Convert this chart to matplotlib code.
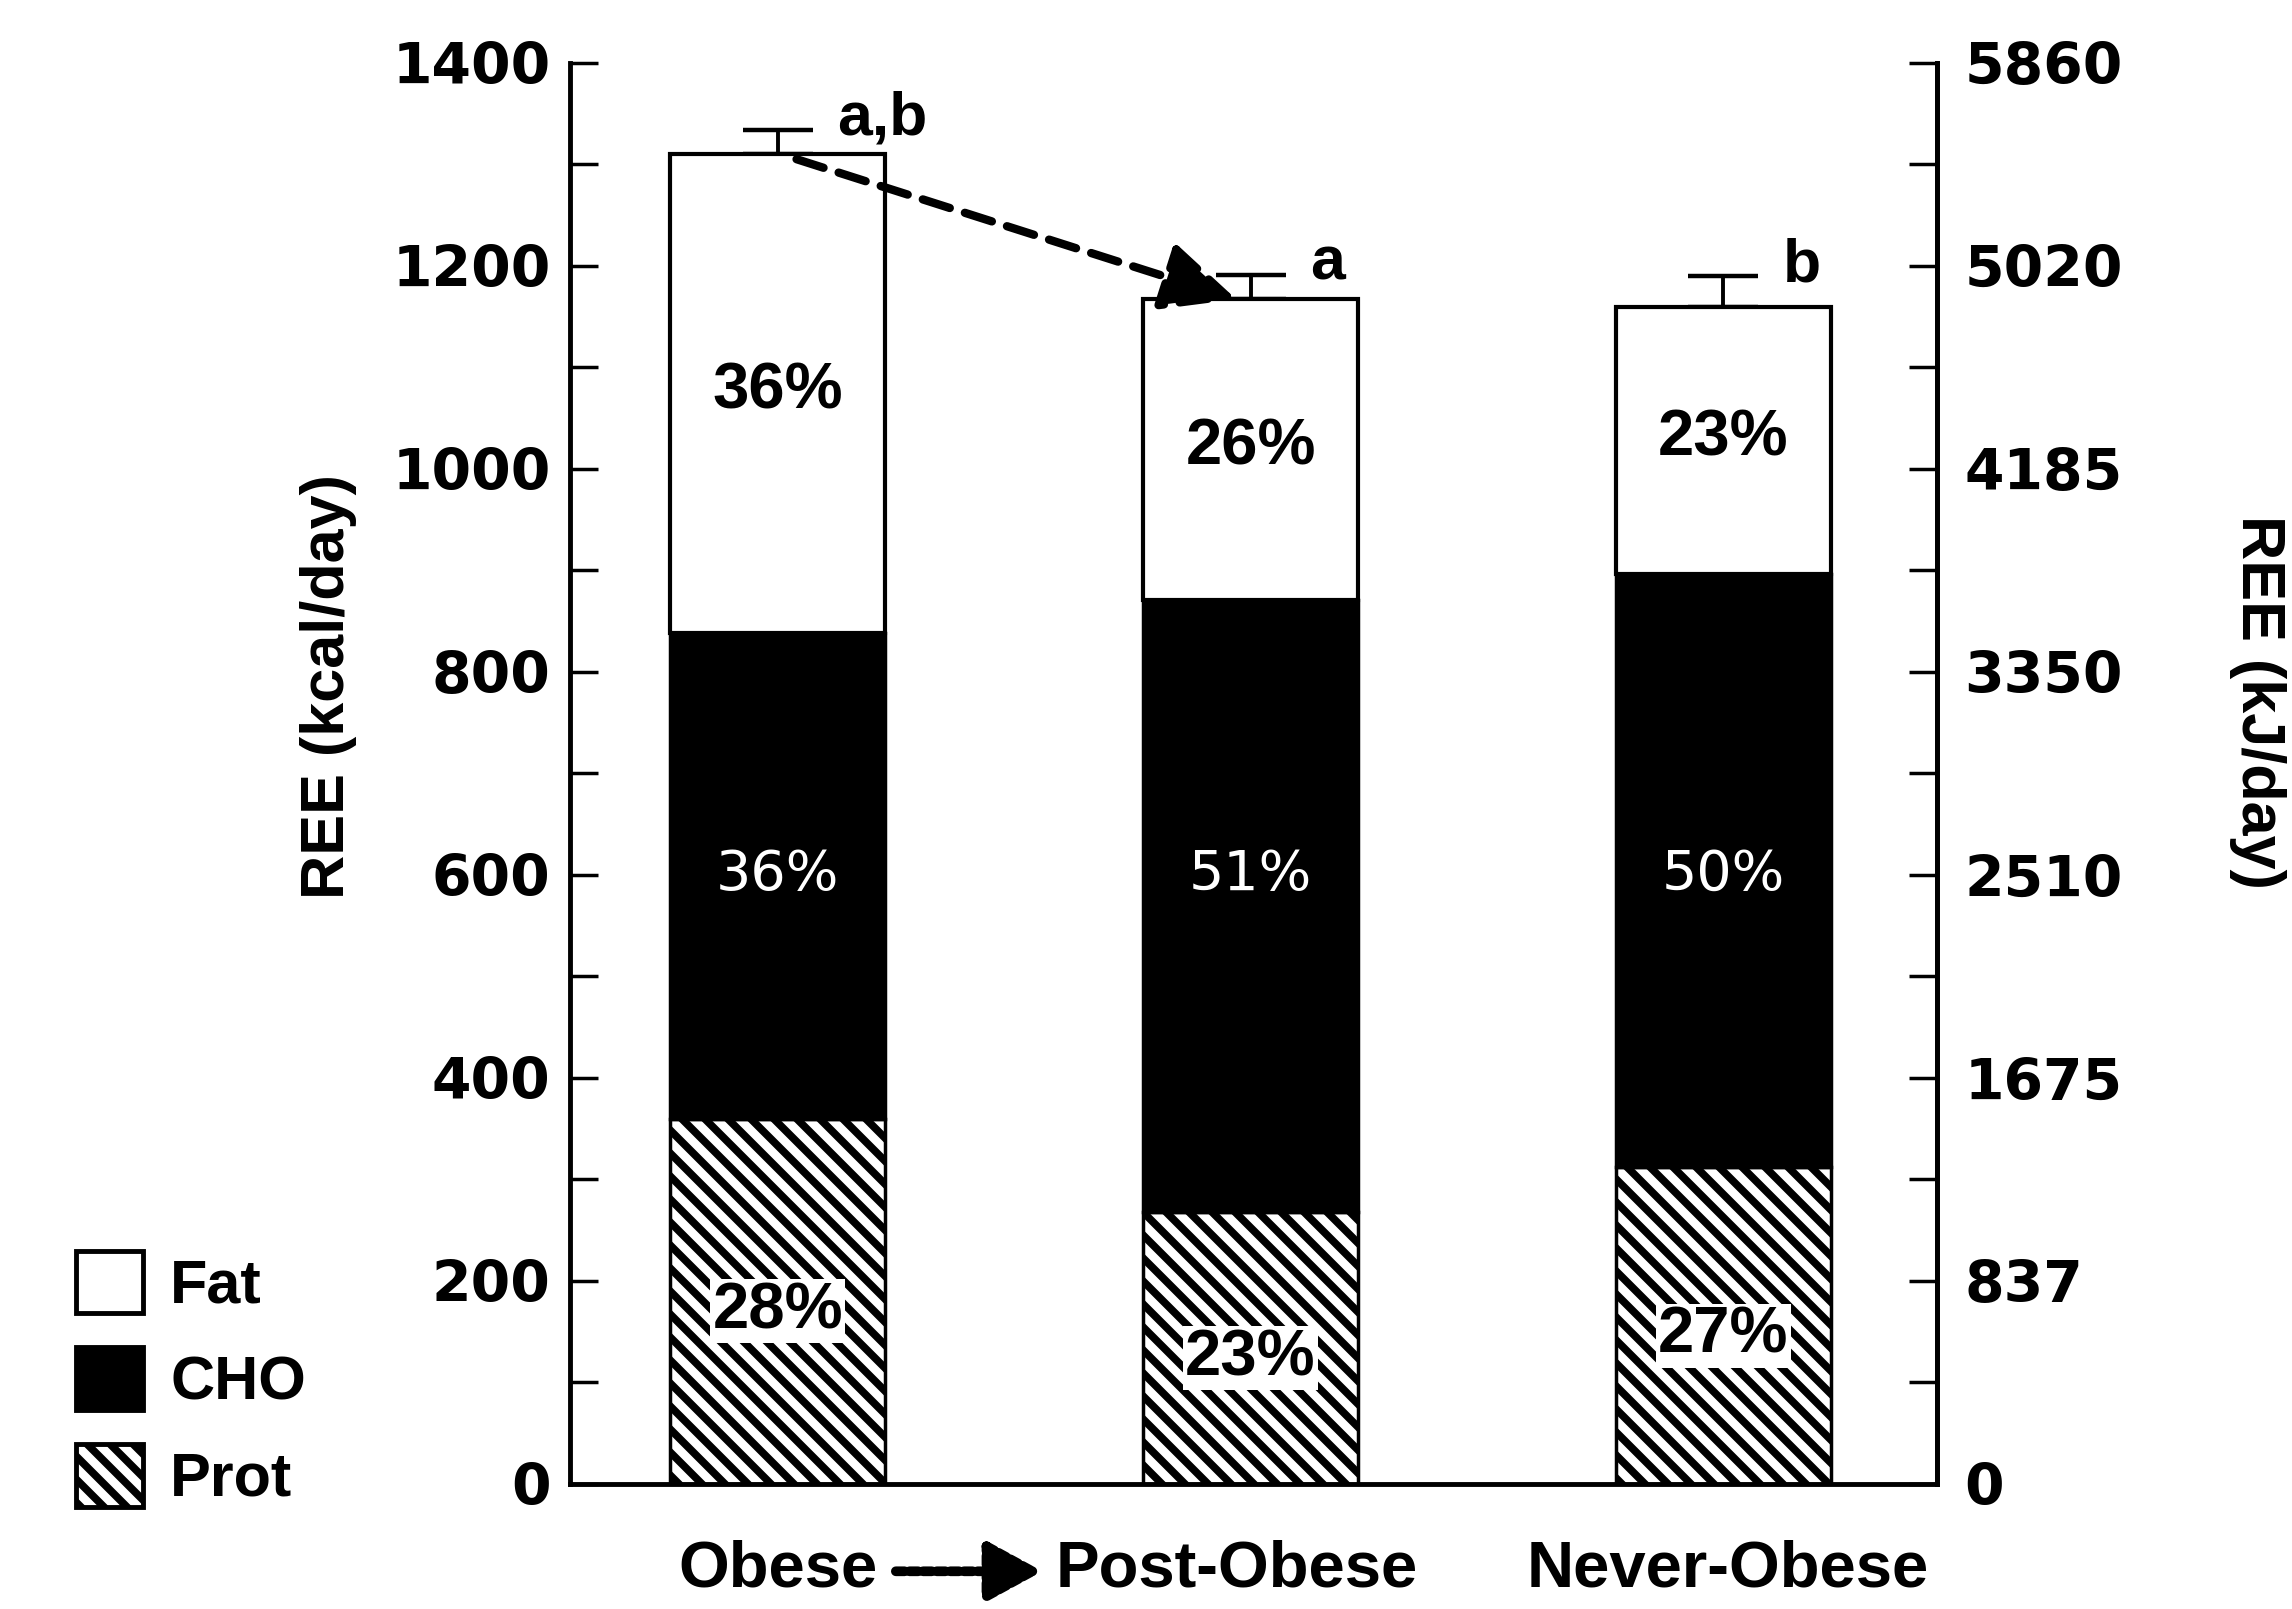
import numpy as np
import matplotlib.pyplot as plt
from matplotlib.patches import Patch
from matplotlib.ticker import MultipleLocator

# values (kcal/day)
groups = ['Obese', 'Post-Obese', 'Never-Obese']
prot = [360, 268, 312]
cho = [478, 603, 584]
fat = [472, 296, 263]
sem = [24, 24, 31]
fat_pct = ['36%', '26%', '23%']
cho_pct = ['36%', '51%', '50%']
prot_pct = ['28%', '23%', '27%']
sig = ['a,b', 'a', 'b']
kcal_ticks = [0, 200, 400, 600, 800, 1000, 1200, 1400]
kj_labels = ['0', '837', '1675', '2510', '3350', '4185', '5020', '5860']

# higher dpi so the hatch spacing comes out like the printed figure
DPI = 138
k = 100 / DPI   # sizes below were worked out at 100 dpi

plt.rcParams['hatch.linewidth'] = 4.0
plt.rcParams['font.family'] = ['Liberation Sans', 'DejaVu Sans']
plt.rcParams['font.weight'] = 'bold'

fig = plt.figure(figsize=(2292 / DPI, 1609 / DPI), dpi=DPI)
ax = fig.add_axes([0.2487, 0.0777, 0.5963, 0.8833])

x = np.arange(len(groups))
w = 0.454
prot = np.array(prot)
cho = np.array(cho)
fat = np.array(fat)
cho_top = prot + cho
total = cho_top + fat

ax.bar(x, prot, w, color='white', edgecolor='black', hatch='\\\\', linewidth=2.5 * k, zorder=2)
ax.bar(x, cho, w, bottom=prot, color='black', edgecolor='black', linewidth=2.5 * k, zorder=2)
ax.bar(x, fat, w, bottom=cho_top, color='white', edgecolor='black', linewidth=3 * k, zorder=2)

# upper error bars only
ax.errorbar(x, total, yerr=[np.zeros(3), sem], fmt='none', ecolor='black',
            elinewidth=2.8 * k, capsize=25 * k, capthick=3.2 * k, zorder=1)

# percentage labels
for i in range(len(groups)):
    ax.text(x[i], cho_top[i] + fat[i] / 2 + 2, fat_pct[i], ha='center', va='center',
            fontsize=47 * k, fontweight='bold', zorder=4)
    ax.text(x[i], 600, cho_pct[i], ha='center', va='center', color='white',
            fontsize=40 * k, fontweight='normal', family=['DejaVu Sans'], zorder=4)
    ax.text(x[i], prot[i] / 2 - 10, prot_pct[i], ha='center', va='center',
            fontsize=47 * k, fontweight='bold', zorder=4,
            bbox=dict(facecolor='white', edgecolor='none', pad=1))
    ax.text(x[i] + 0.125, total[i] + sem[i] - 5, sig[i], ha='left', va='baseline',
            fontsize=45 * k, fontweight='bold')

# dashed arrow Obese -> Post-Obese
ax.annotate('', xy=(x[1] - 0.03, total[1]), xytext=(x[0] + 0.04, total[0] - 5),
            arrowprops=dict(arrowstyle='-|>,head_length=1.5,head_width=0.7',
                            mutation_scale=30 * k, color='black', lw=6 * k,
                            linestyle=(0, (3.4, 1.9)), shrinkA=0, shrinkB=0),
            zorder=5)

ax.set_xlim(-0.439, 2.451)
ax.set_ylim(0, 1400)
ax.spines['top'].set_visible(False)
for s in ['left', 'right', 'bottom']:
    ax.spines[s].set_linewidth(3.5 * k)

ax.set_yticks(kcal_ticks)
ax.yaxis.set_minor_locator(MultipleLocator(100))
ax.tick_params(axis='y', which='both', direction='in', length=20 * k, width=2.5 * k, pad=14 * k)
ax.tick_params(axis='y', which='major', labelsize=41 * k)
for t in ax.get_yticklabels():
    t.set_family('DejaVu Sans')
    t.set_fontweight('bold')

# label slots sit a little off the bar centres, as in the original
ax.set_xticks([x[0], x[1] - 0.03, x[2] + 0.01])
ax.set_xticklabels(groups, fontsize=47 * k, fontweight='bold')
ax.tick_params(axis='x', length=0, pad=40 * k)

# small dashed arrow between the first two group names
ax.annotate('', xy=(0.56, -86), xytext=(0.25, -86), annotation_clip=False,
            arrowprops=dict(arrowstyle='-|>,head_length=1.1,head_width=0.6',
                            mutation_scale=30 * k, color='black', lw=7 * k,
                            linestyle=(0, (0.9, 0.5)), shrinkA=0, shrinkB=0))

ax2 = ax.twinx()
ax2.set_ylim(0, 1400)
ax2.set_yticks(kcal_ticks)
ax2.set_yticklabels(kj_labels)
ax2.yaxis.set_minor_locator(MultipleLocator(100))
ax2.tick_params(axis='y', which='both', direction='in', length=20 * k, width=2.5 * k, pad=20 * k)
ax2.tick_params(axis='y', which='major', labelsize=41 * k)
for t in ax2.get_yticklabels():
    t.set_family('DejaVu Sans')
    t.set_fontweight('bold')
ax2.spines['top'].set_visible(False)
ax2.spines['right'].set_linewidth(3.5 * k)

fig.text(0.1435, 0.573, 'REE (kcal/day)', rotation=90, ha='center', va='center',
         fontsize=44 * k, fontweight='bold')
fig.text(0.985, 0.564, 'REE (kJ/day)', rotation=270, ha='center', va='center',
         fontsize=44 * k, fontweight='bold')

handles = [Patch(facecolor='white', edgecolor='black', linewidth=3.5 * k),
           Patch(facecolor='black', edgecolor='black', linewidth=3.5 * k),
           Patch(facecolor='white', edgecolor='black', linewidth=3.5 * k, hatch='\\\\')]
fig.legend(handles, ['Fat', 'CHO', 'Prot'], loc='lower left',
           bbox_to_anchor=(0.009, 0.028), frameon=False, fontsize=44 * k,
           handlelength=1.1, handleheight=1.2, labelspacing=0.52, handletextpad=0.45)

fig.savefig('out.png', dpi=DPI)
